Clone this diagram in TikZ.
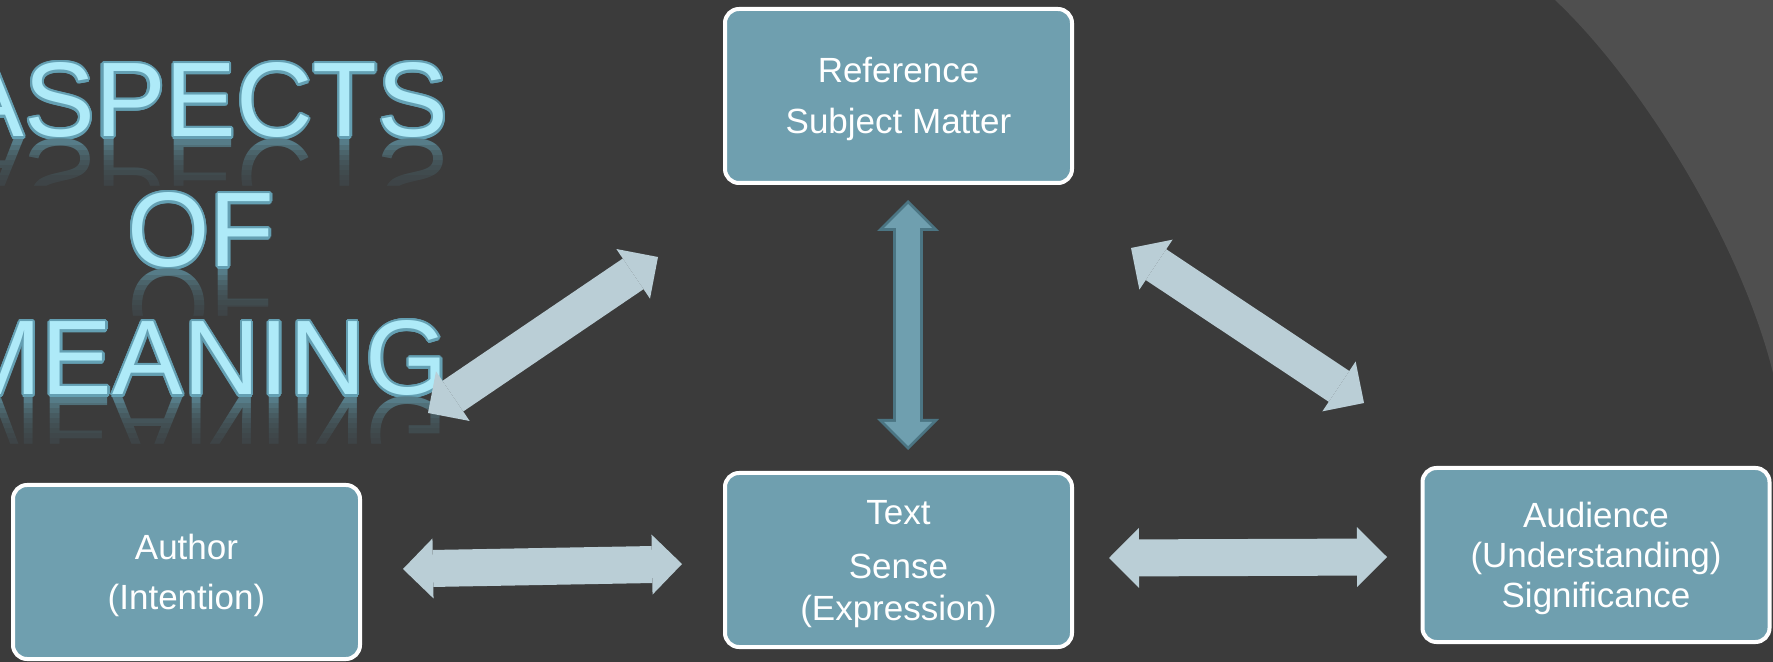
\documentclass[tikz,border=0pt]{standalone}
\usepackage{fontspec}
\setmainfont{Liberation Sans}
\usepackage[copies]{contour}
\usetikzlibrary{arrows.meta}

\definecolor{bgdark}{HTML}{3B3B3B}
\definecolor{bglight}{HTML}{4F4F4F}
\definecolor{boxfill}{HTML}{6F9FAF}
\definecolor{arrowlight}{HTML}{BACED6}
\definecolor{arrowedge}{HTML}{4B7583}
\definecolor{titlefill}{HTML}{AEEAF8}
\definecolor{titleedge}{HTML}{64A0B3}
\definecolor{titleshadow}{HTML}{5B8896}

\contourlength{1.1pt}
\newcommand{\titleword}[1]{\contour{titleedge}{\textcolor{titlefill}{#1}}}
\newcommand{\topstrut}{\rule{0pt}{16pt}}

\tikzset{
  box/.style={draw=white, line width=2pt, fill=boxfill, rounded corners=7pt,
    minimum width=173.5pt, minimum height=87pt, text=white, align=center,
    font=\fontsize{17.5}{21}\selectfont},
  title/.style={anchor=base, inner sep=0pt, font=\fontsize{53}{53}\selectfont},
  mirror/.style={title, yscale=-1, text=titleshadow},
  widearrow/.style={arrowlight, line width=18.5pt, {Triangle[width=30pt, length=15pt, line width=0pt]}-{Triangle[width=30pt, length=15pt, line width=0pt]}},
}

\begin{document}
\begin{tikzpicture}[x=0.5pt, y=-0.5pt]
    \clip (0,0) rectangle (1773,662);
    \fill[bgdark] (0,0) rectangle (1773,662);
    \fill[bglight] (1555,0) .. controls (1640,80) and (1740,240) .. (1773,373) -- (1773,0) -- cycle;

    % title with its reflection
    \node[title] (aspects) at (201,137) {\titleword{ASPECTS}};
    \node[title] (of) at (201,267) {\titleword{OF}};
    \node[title] (meaning) at (201,395) {\titleword{MEANING}};
    \foreach \name/\word/\y in {aspects-r/ASPECTS/140, of-r/OF/270, meaning-r/MEANING/398} {
        \begin{scope}
            \clip (-60,\y-1) rectangle (460,\y+46);
            \node[mirror] (\name) at (201,\y) {\word};
            \fill[bgdark, opacity=0.15] (-60,\y-1) rectangle (460,\y+46);
            \foreach \k in {1,...,9}
                \fill[bgdark, opacity=0.2] (-60,\y+5*\k) rectangle (460,\y+46);
        \end{scope}
    }

    \node[box] (ref) at (898.5,96) {\topstrut Reference\\[4.5pt]Subject Matter};
    \node[box] (text) at (898.5,560) {\topstrut Text\\[6pt]Sense\\(Expression)};
    \node[box] (author) at (186.5,572) {\topstrut Author\\[4pt](Intention)};
    \node[box] (aud) at (1596,555) {\topstrut Audience\\[-1pt](Understanding)\\[-1pt]Significance};

    % arrow ends
    \coordinate (vtop) at (908,200);
    \coordinate (vbot) at (908,450);
    \coordinate (dl1) at (428,413);
    \coordinate (dl2) at (658,257);
    \coordinate (dr1) at (1131,248);
    \coordinate (dr2) at (1364,403);
    \coordinate (hl1) at (403,569);
    \coordinate (hl2) at (682,564);
    \coordinate (hr1) at (1109,558);
    \coordinate (hr2) at (1387,557);

    \draw[widearrow] (dl1) -- (dl2);
    \draw[widearrow] (dr1) -- (dr2);
    \draw[widearrow] (hl1) -- (hl2);
    \draw[widearrow] (hr1) -- (hr2);
    \draw[arrowedge, line width=15pt, {Triangle[width=31pt, length=15.5pt, line width=0pt]}-{Triangle[width=31pt, length=15.5pt, line width=0pt]}] (vtop) -- (vbot);
    \draw[boxfill, line width=12pt, shorten <=2pt, shorten >=2pt, {Triangle[width=24pt, length=12pt, line width=0pt]}-{Triangle[width=24pt, length=12pt, line width=0pt]}] (vtop) -- (vbot);
\end{tikzpicture}
\end{document}
